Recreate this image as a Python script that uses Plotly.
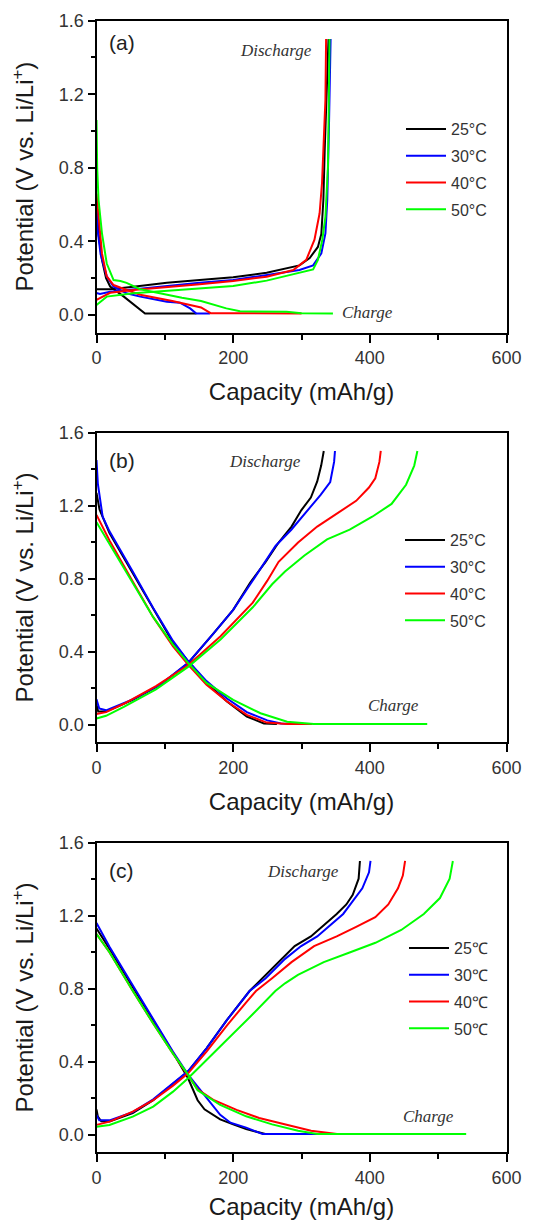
import plotly.graph_objects as go

temps_ab = ["25°C", "30°C", "40°C", "50°C"]
temps_c = ["25℃", "30℃", "40℃", "50℃"]
colors = ["#000000", "#0000ff", "#ff0000", "#00ff00"]

# ---------------- Panel (a) ----------------
a_chg_25_x = [0, 3, 8, 14, 20, 40, 71, 146]
a_chg_25_y = [0.60, 0.44, 0.30, 0.20, 0.155, 0.10, 0.008, 0.008]
a_chg_30_x = [0, 2, 6, 15, 25, 44, 64, 103, 122, 137, 146, 166]
a_chg_30_y = [0.63, 0.45, 0.33, 0.21, 0.154, 0.118, 0.10, 0.072, 0.067, 0.036, 0.008, 0.008]
a_chg_40_x = [0, 3, 8, 15, 25, 44, 64, 111, 134, 153, 167, 300]
a_chg_40_y = [0.66, 0.53, 0.335, 0.21, 0.163, 0.136, 0.11, 0.076, 0.059, 0.041, 0.01, 0.008]
a_chg_50_x = [0, 1, 3, 8, 15, 25, 35, 44, 64, 103, 125, 153, 190, 210, 278, 300, 346]
a_chg_50_y = [1.06, 0.80, 0.625, 0.444, 0.28, 0.19, 0.185, 0.175, 0.14, 0.109, 0.094, 0.076, 0.036, 0.02, 0.018, 0.01, 0.008]

a_dis_25_x = [0, 20, 54, 103, 151, 200, 249, 278, 297, 312, 324, 329, 332, 334, 336, 338.7, 339.5]
a_dis_25_y = [0.14, 0.14, 0.154, 0.176, 0.19, 0.205, 0.23, 0.254, 0.27, 0.31, 0.37, 0.44, 0.625, 0.9, 1.17, 1.46, 1.5]
a_dis_30_x = [0, 5, 20, 54, 103, 151, 200, 249, 297, 317, 329, 335, 337.7, 340, 342, 342.6]
a_dis_30_y = [0.12, 0.115, 0.127, 0.14, 0.16, 0.176, 0.19, 0.217, 0.245, 0.27, 0.335, 0.444, 0.625, 0.99, 1.35, 1.5]
a_dis_40_x = [0, 20, 54, 103, 151, 200, 249, 288, 307, 319, 326.5, 330, 333, 335, 336]
a_dis_40_y = [0.082, 0.121, 0.136, 0.15, 0.167, 0.185, 0.208, 0.245, 0.30, 0.41, 0.553, 0.716, 0.95, 1.17, 1.5]
a_dis_50_x = [0, 15, 54, 103, 151, 200, 249, 297, 317, 324, 330.4, 335, 338.7, 340, 341]
a_dis_50_y = [0.054, 0.10, 0.118, 0.132, 0.145, 0.158, 0.187, 0.23, 0.248, 0.30, 0.408, 0.534, 0.806, 1.17, 1.5]

# ---------------- Panel (b) ----------------
b_chg_25_x = [0, 4.4, 19, 53, 83, 112, 134, 161, 191, 220, 245, 264]
b_chg_25_y = [1.27, 1.18, 1.05, 0.83, 0.63, 0.45, 0.35, 0.23, 0.128, 0.046, 0.008, 0.005]
b_chg_30_x = [0, 2, 9, 19, 53, 83, 112, 134, 161, 191, 220, 250, 270, 290]
b_chg_30_y = [1.45, 1.32, 1.14, 1.06, 0.84, 0.64, 0.46, 0.35, 0.24, 0.145, 0.07, 0.025, 0.008, 0.005]
b_chg_40_x = [0, 19, 53, 83, 112, 134, 161, 191, 220, 249, 279, 316]
b_chg_40_y = [1.15, 1.01, 0.785, 0.59, 0.43, 0.33, 0.22, 0.128, 0.055, 0.013, 0.005, 0.005]
b_chg_50_x = [0, 19, 53, 83, 112, 134, 161, 200, 240, 279, 318, 484]
b_chg_50_y = [1.11, 0.99, 0.775, 0.59, 0.44, 0.34, 0.23, 0.137, 0.064, 0.018, 0.005, 0.005]

b_dis_25_x = [0, 2.5, 14, 53, 93, 134, 171, 200, 225, 247.5, 266.5, 285.4, 299.6, 313.7, 323, 328.8, 332.6]
b_dis_25_y = [0.11, 0.073, 0.073, 0.137, 0.219, 0.338, 0.50, 0.63, 0.78, 0.893, 0.999, 1.086, 1.175, 1.245, 1.333, 1.42, 1.5]
b_dis_30_x = [0, 4, 14, 53, 93, 134, 171, 200, 225, 262, 285.4, 309, 328, 342, 347.7, 349]
b_dis_30_y = [0.14, 0.09, 0.08, 0.14, 0.22, 0.34, 0.50, 0.63, 0.77, 0.98, 1.07, 1.175, 1.26, 1.33, 1.44, 1.5]
b_dis_40_x = [0, 14, 40, 87, 134, 181.5, 228.7, 250, 266.5, 295, 323, 351.5, 380, 398.7, 408, 414, 416]
b_dis_40_y = [0.06, 0.07, 0.116, 0.213, 0.327, 0.486, 0.67, 0.79, 0.893, 0.999, 1.086, 1.157, 1.227, 1.30, 1.35, 1.44, 1.5]
b_dis_50_x = [0, 14, 40, 87, 134, 181.5, 228.7, 257, 275.9, 304.3, 337.4, 370.5, 403.5, 431.8, 453, 465, 469.6]
b_dis_50_y = [0.035, 0.05, 0.099, 0.195, 0.318, 0.468, 0.644, 0.77, 0.84, 0.928, 1.016, 1.069, 1.14, 1.21, 1.315, 1.42, 1.5]

# ---------------- Panel (c) ----------------
c_chg_25_x = [0, 19, 53, 83, 112, 134, 148, 158, 181, 200, 219, 247]
c_chg_25_y = [1.13, 1.02, 0.81, 0.63, 0.45, 0.31, 0.19, 0.14, 0.085, 0.058, 0.032, 0.005]
c_chg_30_x = [0, 19, 53, 83, 112, 134, 158, 181, 196, 219, 243, 328]
c_chg_30_y = [1.16, 1.03, 0.82, 0.635, 0.455, 0.33, 0.216, 0.11, 0.067, 0.04, 0.005, 0.005]
c_chg_40_x = [0, 19, 53, 83, 112, 134, 148, 172, 205, 238, 276, 314, 352]
c_chg_40_y = [1.10, 1.0, 0.79, 0.61, 0.445, 0.33, 0.25, 0.19, 0.137, 0.093, 0.058, 0.023, 0.005]
c_chg_50_x = [0, 19, 53, 83, 112, 134, 148, 181, 219, 257, 295, 323, 541]
c_chg_50_y = [1.10, 1.0, 0.79, 0.61, 0.445, 0.33, 0.245, 0.164, 0.102, 0.058, 0.023, 0.005, 0.005]

c_dis_25_x = [0, 2, 7, 19, 53, 83, 112, 134, 161, 191, 224, 242.8, 266.5, 290, 313.7, 332.6, 351.5, 365.6, 375, 383.6, 385.5]
c_dis_25_y = [0.14, 0.10, 0.075, 0.073, 0.119, 0.19, 0.28, 0.347, 0.474, 0.63, 0.788, 0.858, 0.946, 1.034, 1.087, 1.148, 1.21, 1.262, 1.315, 1.403, 1.5]
c_dis_30_x = [0, 4, 19, 53, 83, 112, 134, 161, 191, 224, 247.6, 276, 299.5, 323, 342, 361, 375, 389, 398.8, 401]
c_dis_30_y = [0.11, 0.08, 0.08, 0.125, 0.195, 0.285, 0.35, 0.474, 0.63, 0.788, 0.858, 0.964, 1.034, 1.087, 1.148, 1.21, 1.28, 1.35, 1.438, 1.5]
c_dis_40_x = [0, 19, 53, 83, 112, 134, 161, 191, 220, 233.4, 257, 285.4, 318.4, 351.5, 380, 408, 427, 441.2, 448.3, 451.6]
c_dis_40_y = [0.055, 0.073, 0.128, 0.19, 0.27, 0.337, 0.456, 0.60, 0.73, 0.788, 0.858, 0.946, 1.034, 1.087, 1.139, 1.192, 1.262, 1.35, 1.42, 1.5]
c_dis_50_x = [0, 19, 53, 83, 112, 134, 161, 191, 230, 261.7, 275.9, 294.8, 332.6, 370.4, 408.2, 446, 479, 502.6, 516.8, 521.5]
c_dis_50_y = [0.045, 0.055, 0.10, 0.155, 0.237, 0.31, 0.41, 0.52, 0.666, 0.788, 0.83, 0.876, 0.946, 0.999, 1.052, 1.122, 1.21, 1.297, 1.403, 1.5]

x_ticks = [0, 200, 400, 600]
y_ticks = [0.0, 0.4, 0.8, 1.2, 1.6]
y_tick_text = ["0.0", "0.4", "0.8", "1.2", "1.6"]

panels = [
    dict(tag="a", xa="x", ya="y", leg="legend", names=temps_ab,
         chg=[(a_chg_25_x, a_chg_25_y), (a_chg_30_x, a_chg_30_y), (a_chg_40_x, a_chg_40_y), (a_chg_50_x, a_chg_50_y)],
         dis=[(a_dis_25_x, a_dis_25_y), (a_dis_30_x, a_dis_30_y), (a_dis_40_x, a_dis_40_y), (a_dis_50_x, a_dis_50_y)]),
    dict(tag="b", xa="x2", ya="y2", leg="legend2", names=temps_ab,
         chg=[(b_chg_25_x, b_chg_25_y), (b_chg_30_x, b_chg_30_y), (b_chg_40_x, b_chg_40_y), (b_chg_50_x, b_chg_50_y)],
         dis=[(b_dis_25_x, b_dis_25_y), (b_dis_30_x, b_dis_30_y), (b_dis_40_x, b_dis_40_y), (b_dis_50_x, b_dis_50_y)]),
    dict(tag="c", xa="x3", ya="y3", leg="legend3", names=temps_c,
         chg=[(c_chg_25_x, c_chg_25_y), (c_chg_30_x, c_chg_30_y), (c_chg_40_x, c_chg_40_y), (c_chg_50_x, c_chg_50_y)],
         dis=[(c_dis_25_x, c_dis_25_y), (c_dis_30_x, c_dis_30_y), (c_dis_40_x, c_dis_40_y), (c_dis_50_x, c_dis_50_y)]),
]

fig = go.Figure()
for p in panels:
    for i in range(4):
        for j, (xs, ys) in enumerate([p["chg"][i], p["dis"][i]]):
            fig.add_trace(go.Scatter(
                x=xs, y=ys, mode="lines", name=p["names"][i],
                line=dict(color=colors[i], width=2),
                xaxis=p["xa"], yaxis=p["ya"], legend=p["leg"],
                legendgroup=p["tag"] + str(i), showlegend=(j == 0),
                hoverinfo="skip"))

# page body has an 8px margin: figure is sized to fit the 544x1220 window
OX, OY = 8, 8
W, H = 544 - OX, 1220 - OY


def px_x(v):
    return (v - OX) / W


def px_y(v):
    return 1 - (v - OY) / H


xdom = [px_x(96.5), px_x(506.5)]
ydoms = [
    [px_y(332.5), px_y(20.7)],
    [px_y(742.3), px_y(432.7)],
    [px_y(1152.3), px_y(842.7)],
]

tick_font = dict(family="Liberation Sans, Arial, sans-serif", size=18, color="#333333")
title_font = dict(family="Liberation Sans, Arial, sans-serif", size=24, color="#1a1a1a")

layout = dict(
    width=W, height=H,
    margin=dict(l=0, r=0, t=0, b=0),
    paper_bgcolor="white", plot_bgcolor="white",
    showlegend=True,
)
axis_names = ["", "2", "3"]
for k, suf in enumerate(axis_names):
    layout["xaxis" + suf] = dict(
        domain=xdom, anchor="y" + suf, range=[0, 600],
        tickvals=x_ticks, ticks="outside", ticklen=8, tickwidth=2, tickcolor="#000",
        minor=dict(tickvals=[100, 300, 500], ticks="outside", ticklen=5, tickwidth=2, tickcolor="#000"),
        showline=True, linewidth=2, linecolor="#000", mirror=True,
        showgrid=False, zeroline=False, tickfont=tick_font,
        title=dict(text="Capacity (mAh/g)", font=title_font, standoff=16),
        automargin=False,
    )
    layout["yaxis" + suf] = dict(
        domain=ydoms[k], anchor="x" + suf, range=[-0.095, 1.6],
        tickvals=y_ticks, ticktext=y_tick_text, ticks="outside", ticklen=7, tickwidth=2, tickcolor="#000",
        minor=dict(tickvals=[0.2, 0.6, 1.0, 1.4], ticks="outside", ticklen=4, tickwidth=2, tickcolor="#000"),
        showline=True, linewidth=2, linecolor="#000", mirror=True,
        showgrid=False, zeroline=False, tickfont=tick_font,
        title=dict(text="Potential (V vs. Li/Li<sup>+</sup>)", font=title_font, standoff=22),
        automargin=False,
    )

leg_font = dict(family="Liberation Sans, Arial, sans-serif", size=16, color="#333333")
leg_pos = [(401, 112), (400, 523), (404, 931)]
for k, (lx, ly) in enumerate(leg_pos):
    layout["legend" + axis_names[k]] = dict(
        x=px_x(lx), y=px_y(ly), xanchor="left", yanchor="top",
        bgcolor="rgba(0,0,0,0)", borderwidth=0, font=leg_font,
        tracegroupgap=3, itemwidth=40,
    )

fig.update_layout(**layout)

lab_font = dict(family="Liberation Sans, Arial, sans-serif", size=21, color="#222222")
it_font = dict(family="Liberation Serif, Times New Roman, serif", size=17, color="#333333")
ann = [
    ("x", "y", "(a)", 36.6, 1.48, lab_font),
    ("x", "y", "<i>Discharge</i>", 263, 1.44, it_font),
    ("x", "y", "<i>Charge</i>", 397, 0.012, it_font),
    ("x2", "y2", "(b)", 36.6, 1.45, lab_font),
    ("x2", "y2", "<i>Discharge</i>", 246, 1.445, it_font),
    ("x2", "y2", "<i>Charge</i>", 434, 0.104, it_font),
    ("x3", "y3", "(c)", 36.6, 1.45, lab_font),
    ("x3", "y3", "<i>Discharge</i>", 301.5, 1.445, it_font),
    ("x3", "y3", "<i>Charge</i>", 486, 0.0985, it_font),
]
for xr, yr, t, ax_, ay_, f in ann:
    fig.add_annotation(xref=xr, yref=yr, x=ax_, y=ay_, text=t, showarrow=False, font=f)

fig.write_html("out.html")
